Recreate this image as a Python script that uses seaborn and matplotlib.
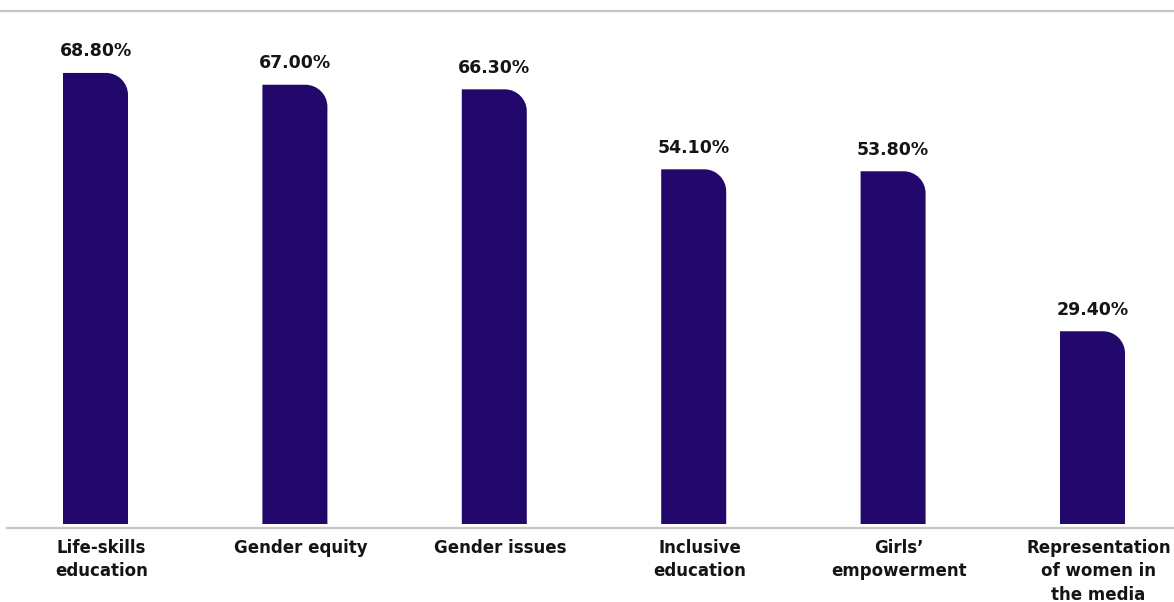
import numpy as np
import pandas as pd
import seaborn as sns
import matplotlib
matplotlib.use("Agg")
import matplotlib.pyplot as plt
from matplotlib.path import Path
from matplotlib.patches import PathPatch
from matplotlib.transforms import ScaledTranslation

# Share of respondents per topic
categories = [
    "Life-skills\neducation",
    "Gender equity",
    "Gender issues",
    "Inclusive\neducation",
    "Girls\u2019\nempowerment",
    "Representation\nof women in\nthe media",
]
values = [68.8, 67.0, 66.3, 54.1, 53.8, 29.4]
value_labels = ["68.80%", "67.00%", "66.30%", "54.10%", "53.80%", "29.40%"]

BAR_COLOR = "#22086a"
TEXT_COLOR = "#141414"
RULE_COLOR = "#c6c6c6"

sns.set_theme(style="white")
plt.rcParams["font.family"] = ["DejaVu Sans"]

W, H, DPI = 1174, 602, 100
fig = plt.figure(figsize=(W / DPI, H / DPI), dpi=DPI)
ax = fig.add_axes([0, (H - 528) / H, 1, (528 - 11) / H])

df = pd.DataFrame({"topic": categories, "share": values})
sns.barplot(data=df, x="topic", y="share", color=BAR_COLOR,
            width=0.326, saturation=1, ax=ax)

# axis limits chosen so that the categories spread over the full width
px_per_cat = 199.4
x0 = -95.5 / px_per_cat
ax.set_xlim(x0, x0 + W / px_per_cat)
px_per_unit = 6.556
y0 = -4 / px_per_unit
ax.set_ylim(y0, y0 + (528 - 11) / px_per_unit)

# replace the plain rectangles by bars with a rounded top-right corner
fig.canvas.draw()
radius_px = 22
rx = radius_px / px_per_cat
ry = radius_px / px_per_unit
for bar in list(ax.patches):
    x, w, h = bar.get_x(), bar.get_width(), bar.get_height()
    bar.set_visible(False)
    k = 0.5523
    verts = [
        (x, 0), (x + w, 0), (x + w, h - ry),
        (x + w, h - ry + k * ry), (x + w - rx + k * rx, h), (x + w - rx, h),
        (x, h), (x, 0),
    ]
    codes = [Path.MOVETO, Path.LINETO, Path.LINETO,
             Path.CURVE4, Path.CURVE4, Path.CURVE4,
             Path.LINETO, Path.CLOSEPOLY]
    ax.add_patch(PathPatch(Path(verts, codes), facecolor=BAR_COLOR,
                           edgecolor="none", zorder=2))
    idx = int(round(x + w / 2))
    ax.annotate(value_labels[idx], (x + w / 2, h), xytext=(0, 9),
                textcoords="offset points", ha="center", va="bottom",
                fontsize=12.5, fontweight="bold", color=TEXT_COLOR)

ax.set_xlabel("")
ax.set_ylabel("")
ax.set_yticks([])
ax.tick_params(axis="x", length=0, pad=8)
offset = ScaledTranslation(6 / DPI, 0, fig.dpi_scale_trans)
for lab in ax.get_xticklabels():
    lab.set_fontsize(12)
    lab.set_fontweight("bold")
    lab.set_color(TEXT_COLOR)
    lab.set_linespacing(1.38)
    lab.set_transform(lab.get_transform() + offset)

for side in ["left", "right"]:
    ax.spines[side].set_visible(False)
for side in ["top", "bottom"]:
    ax.spines[side].set_color(RULE_COLOR)
    ax.spines[side].set_linewidth(1.6)
ax.spines["bottom"].set_bounds(x0 + 7 / px_per_cat, x0 + W / px_per_cat)

fig.savefig("out.png", dpi=DPI)
